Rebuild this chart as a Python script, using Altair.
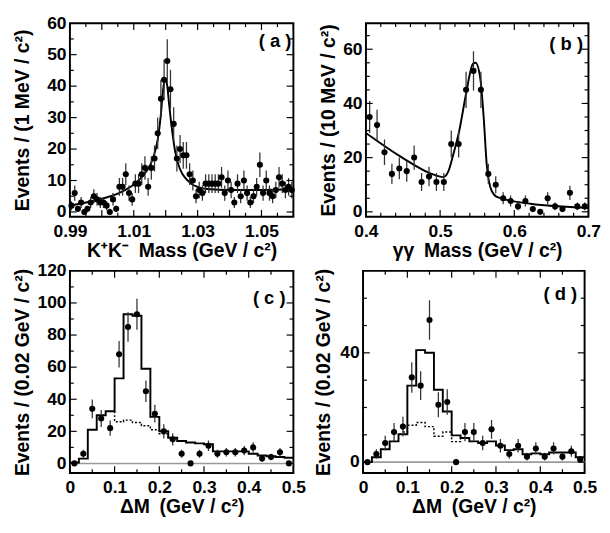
import altair as alt
import numpy as np
import pandas as pd

FONT = "Liberation Sans"

# ---------------- panel (a): K+K- mass, 1 MeV bins ----------------
a_edges_lo, a_edges_hi, a_binw = 0.990, 1.060, 0.001
a_counts = [2, 6, 1, 3, 0, 1, 3, 5, 4, 3,
            3, 2, 0, 4, 1, 8, 8, 12, 6, 4,
            9, 9, 12, 14, 8, 14, 17, 25, 36, 42,
            48, 39, 28, 17, 20, 18, 18, 12, 10, 5,
            7, 6, 9, 9, 9, 9, 9, 11, 6, 10,
            7, 3, 9, 5, 10, 6, 3, 5, 8, 15,
            6, 10, 6, 5, 7, 11, 9, 7, 8, 7]
a_fit_x = [0.990, 0.995, 1.000, 1.005, 1.009, 1.012, 1.014, 1.016, 1.0175,
           1.0185, 1.019, 1.0195, 1.020, 1.0205, 1.021, 1.022, 1.023, 1.024,
           1.025, 1.026, 1.028, 1.030, 1.033, 1.040, 1.050, 1.060]
a_fit_y = [2.0, 3.0, 4.2, 5.8, 8.0, 10.5, 13.0, 17.0, 23.0,
           31.0, 37.0, 41.0, 42.0, 40.0, 35.0, 26.0, 19.0, 15.0,
           12.5, 11.0, 9.0, 8.0, 7.3, 7.0, 7.0, 7.2]

# ---------------- panel (b): gamma gamma mass, 10 MeV bins ----------------
b_edges_lo, b_edges_hi, b_binw = 0.40, 0.70, 0.01
b_counts = [35, 32, 22, 14, 16, 15, 20, 11, 13, 11,
            11, 25, 25, 45, 52, 45, 14, 10, 5, 4,
            2, 4, 1, 0, 5, 2, 1, 7, 2, 2]
b_fit_x = [0.400, 0.4478, 0.4913, 0.5043, 0.5109, 0.5174, 0.5261, 0.5348,
           0.5443, 0.5478, 0.5543, 0.5587, 0.5630, 0.5696, 0.5783, 0.6217, 0.700]
b_fit_y = [29.1, 20.2, 13.7, 12.8, 14.8, 20.8, 30.3, 43.3,
           54.6, 55.0, 49.0, 35.0, 17.0, 7.7, 5.3, 3.0, 1.5]

# ---------------- panel (c): Delta M, 0.02 GeV bins ----------------
c_edges_lo, c_edges_hi, c_binw = 0.0, 0.5, 0.02
c_counts = [0, 6, 34, 28, 22, 68, 85, 93, 45, 31,
            20, 15, 6, 0, 6, 11, 6, 7, 7, 8,
            10, 3, 4, 7, 0]
c_total = [0.5, 3, 21, 30, 32.5, 53, 93, 92, 59, 29,
           20, 16, 14, 13, 12.5, 12, 7.5, 7.5, 7.5, 7.5,
           6, 5, 4.5, 4, 3.5]
c_bkg_x = [0.10, 0.10, 0.12, 0.14, 0.16, 0.18, 0.20, 0.22]
c_bkg_y = [32.5, 26, 27, 25.5, 23.5, 21, 18.5, 16]

# ---------------- panel (d): Delta M, 0.02 GeV bins ----------------
d_edges_lo, d_edges_hi, d_binw = 0.0, 0.5, 0.02
d_counts = [0, 3, 7, 11, 13, 31, 28, 52, 21, 22,
            0, 11, 11, 7, 12, 6, 3, 6, 2, 5,
            2, 5, 2, 4, 1]
d_total = [0, 1.8, 4.7, 7.6, 10.2, 28, 41, 40, 26.5, 18.5,
           9.8, 8.8, 7.6, 7, 7.6, 6.1, 4.4, 4.7, 2.9, 3.2,
           2.9, 3.5, 3.5, 3.5, 1.8]
d_bkg_x = [0.09, 0.10, 0.12, 0.14, 0.16, 0.18, 0.20, 0.22]
d_bkg_y = [11, 13.5, 14.5, 13, 9.5, 11, 7.5, 8.8]


def points_df(lo, binw, counts):
    n = np.array(counts, dtype=float)
    x = lo + binw * (np.arange(len(n)) + 0.5)
    err = np.sqrt(np.maximum(n, 1.0))
    return pd.DataFrame({"x": x, "y": n, "lo": n - err, "hi": n + err})


def step_df(lo, binw, vals):
    edges = [lo + binw * i for i in range(len(vals) + 1)]
    xs = edges[:-1] + [edges[-1]]
    ys = list(vals) + [vals[-1]]
    return pd.DataFrame({"x": xs, "y": ys, "o": range(len(xs))})


def make_panel(P):
    W, H = P["w"], P["h"]
    xs = alt.Scale(domain=P["xdom"], nice=False, zero=False)
    ys = alt.Scale(domain=P["ydom"], nice=False, zero=False)
    xa = alt.Axis(title=P["xtitle"], values=P["xlab"], labelExpr=P["xexpr"],
                  ticks=False, tickSize=0, domain=False, grid=False, labelFlush=False,
                  labelOverlap=False, labelPadding=6,
                  titleY=P["xtitley"], titleBaseline="middle")
    ya = alt.Axis(title=P["ytitle"], values=P["ylab"], ticks=False, tickSize=0,
                  domain=False, grid=False, labelFlush=False, labelOverlap=False,
                  labelPadding=4, titleX=P["ytitlex"], titleBaseline="middle")

    def X(f):
        return alt.X(f, type="quantitative", scale=xs, axis=xa)

    def Y(f):
        return alt.Y(f, type="quantitative", scale=ys, axis=ya)

    pdf = P["points"]
    layers = []
    if P.get("zero"):
        zdf = pd.DataFrame({"y": [0.0]})
        layers.append(alt.Chart(zdf).mark_rule(color="#9a9a9a", strokeWidth=1.6).encode(
            y=Y("y"), x=alt.value(0), x2=alt.value(W)))
    for ln in P["lines"]:
        df, style = ln
        kw = dict(color="black", clip=True)
        kw.update(style)
        layers.append(alt.Chart(df).mark_line(**kw).encode(
            x=X("x"), y=Y("y"), order=alt.Order("o:Q")))
    layers.append(alt.Chart(pdf).mark_rule(color="#333333", strokeWidth=1.3, clip=True).encode(
        x=X("x"), y=Y("lo"), y2=alt.Y2("hi")))
    layers.append(alt.Chart(pdf).mark_circle(size=40, color="black", opacity=1).encode(
        x=X("x"), y=Y("y")))
    # inward ticks on all four sides
    for vals, L in ((P["ymaj"], 7), (P["ymin"], 4)):
        tdf = pd.DataFrame({"y": vals})
        layers.append(alt.Chart(tdf).mark_rule(color="black", strokeWidth=1.2).encode(
            y=Y("y"), x=alt.value(0), x2=alt.value(L)))
        layers.append(alt.Chart(tdf).mark_rule(color="black", strokeWidth=1.2).encode(
            y=Y("y"), x=alt.value(W - L), x2=alt.value(W)))
    for vals, L in ((P["xmaj"], 7), (P["xmin"], 4)):
        tdf = pd.DataFrame({"x": vals})
        layers.append(alt.Chart(tdf).mark_rule(color="black", strokeWidth=1.2).encode(
            x=X("x"), y=alt.value(H), y2=alt.value(H - L)))
        layers.append(alt.Chart(tdf).mark_rule(color="black", strokeWidth=1.2).encode(
            x=X("x"), y=alt.value(0), y2=alt.value(L)))
    ldf = pd.DataFrame({"t": [P["tag"]]})
    layers.append(alt.Chart(ldf).mark_text(font=FONT, fontWeight="bold", fontSize=19,
                                           align="center", baseline="middle", color="black").encode(
        text="t:N", x=alt.value(P["tagpos"][0]), y=alt.value(P["tagpos"][1])))
    return alt.layer(*layers).properties(width=W, height=H)


dm_expr = "datum.value == 0 ? '0' : format(datum.value, '.1f')"

pa = make_panel(dict(
    w=231, h=200, xdom=[0.99, 1.06], ydom=[-1.5, 60],
    xtitle="K\u207aK\u207b\u2002Mass (GeV / c\u00b2)", ytitle="Events / (1 MeV / c\u00b2)",
    xtitley=35, ytitlex=-49,
    xlab=[0.99, 1.01, 1.03, 1.05], xexpr="format(datum.value, '.2f')",
    ylab=[0, 10, 20, 30, 40, 50, 60],
    xmaj=[0.99, 1.00, 1.01, 1.02, 1.03, 1.04, 1.05, 1.06],
    xmin=[0.995, 1.005, 1.015, 1.025, 1.035, 1.045, 1.055],
    ymaj=[0, 10, 20, 30, 40, 50], ymin=[5, 15, 25, 35, 45, 55],
    points=points_df(a_edges_lo, a_binw, a_counts),
    lines=[(pd.DataFrame({"x": a_fit_x, "y": a_fit_y, "o": range(len(a_fit_x))}),
            dict(strokeWidth=2, interpolate="monotone"))],
    tag="( a )", tagpos=(212, 19)))

pb = make_panel(dict(
    w=230, h=200, xdom=[0.4, 0.7], ydom=[-1.8, 69.6],
    xtitle="\u03b3\u03b3\u2002Mass (GeV / c\u00b2)", ytitle="Events / (10 MeV / c\u00b2)",
    xtitley=35, ytitlex=-38,
    xlab=[0.4, 0.5, 0.6, 0.7], xexpr="format(datum.value, '.1f')",
    ylab=[0, 20, 40, 60],
    xmaj=[0.4, 0.5, 0.6, 0.7],
    xmin=[0.42, 0.44, 0.46, 0.48, 0.52, 0.54, 0.56, 0.58, 0.62, 0.64, 0.66, 0.68],
    ymaj=[0, 20, 40, 60], ymin=[5, 10, 15, 25, 30, 35, 45, 50, 55, 65],
    points=points_df(b_edges_lo, b_binw, b_counts),
    lines=[(pd.DataFrame({"x": b_fit_x, "y": b_fit_y, "o": range(len(b_fit_x))}),
            dict(strokeWidth=2, interpolate="monotone"))],
    tag="( b )", tagpos=(207, 22)))

pc = make_panel(dict(
    w=231, h=209, xdom=[0, 0.5], ydom=[-6, 120],
    xtitle="\u0394M\u2002(GeV / c\u00b2)", ytitle="Events / (0.02 GeV / c\u00b2)",
    xtitley=35, ytitlex=-49,
    xlab=[0, 0.1, 0.2, 0.3, 0.4, 0.5], xexpr=dm_expr,
    ylab=[0, 20, 40, 60, 80, 100, 120],
    xmaj=[0, 0.1, 0.2, 0.3, 0.4, 0.5],
    xmin=[0.05, 0.15, 0.25, 0.35, 0.45],
    ymaj=[0, 20, 40, 60, 80, 100], ymin=[10, 30, 50, 70, 90, 110],
    points=points_df(c_edges_lo, c_binw, c_counts),
    lines=[(step_df(c_edges_lo, c_binw, c_total), dict(strokeWidth=2, interpolate="step-after")),
           (pd.DataFrame({"x": c_bkg_x, "y": c_bkg_y, "o": range(len(c_bkg_x))}),
            dict(strokeWidth=1.5, strokeDash=[2, 2], interpolate="step-after"))],
    zero=True, tag="( c )", tagpos=(206, 28)))

pd_ = make_panel(dict(
    w=229, h=209, xdom=[0, 0.5], ydom=[-4, 70],
    xtitle="\u0394M\u2002(GeV / c\u00b2)", ytitle="Events / (0.02 GeV / c\u00b2)",
    xtitley=35, ytitlex=-41,
    xlab=[0, 0.1, 0.2, 0.3, 0.4, 0.5], xexpr=dm_expr,
    ylab=[0, 40],
    xmaj=[0, 0.1, 0.2, 0.3, 0.4, 0.5],
    xmin=[0.05, 0.15, 0.25, 0.35, 0.45],
    ymaj=[0, 40], ymin=[10, 20, 30, 50, 60],
    points=points_df(d_edges_lo, d_binw, d_counts),
    lines=[(step_df(d_edges_lo, d_binw, d_total), dict(strokeWidth=2, interpolate="step-after")),
           (pd.DataFrame({"x": d_bkg_x, "y": d_bkg_y, "o": range(len(d_bkg_x))}),
            dict(strokeWidth=1.5, strokeDash=[2, 2], interpolate="step-after"))],
    zero=True, tag="( d )", tagpos=(204, 24)))

top = alt.hconcat(pa, pb, spacing=22)
bottom = alt.hconcat(pc, pd_, spacing=5)
chart = alt.vconcat(top, bottom, spacing=0).properties(
    padding={"left": 3, "top": -3, "right": 0, "bottom": 0},
    background="white",
).configure_view(
    stroke="black", strokeWidth=2
).configure_axis(
    labelFont=FONT, titleFont=FONT, labelFontWeight="bold", titleFontWeight="bold",
    labelFontSize=18, titleFontSize=20, labelColor="black", titleColor="black",
)

chart.save("out.html", embed_options={"renderer": "svg", "actions": False})
